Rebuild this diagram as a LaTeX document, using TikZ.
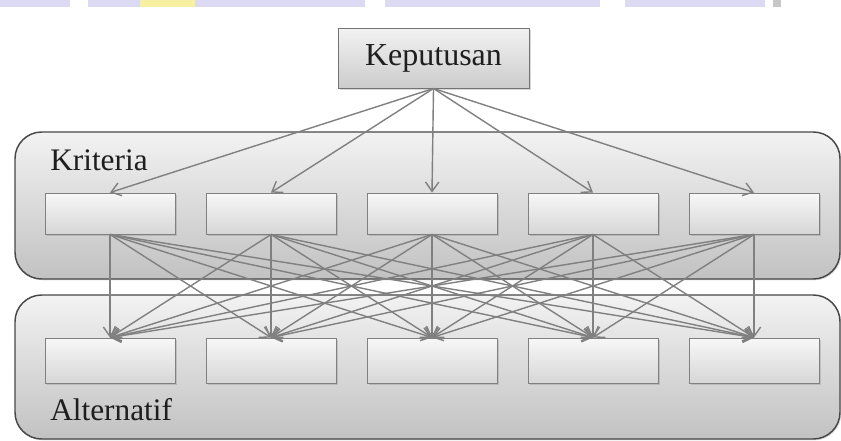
\documentclass[tikz,border=0pt]{standalone}
\usepackage{fontspec}
\setmainfont{Liberation Serif}
\usetikzlibrary{arrows.meta,shadows}
\definecolor{wmlav}{HTML}{DCD9F3}
\definecolor{wmyel}{HTML}{F6F0A0}
\definecolor{txtc}{HTML}{1E1E1E}
\begin{document}
\begin{tikzpicture}[x=0.75pt,y=-0.75pt,
  cont/.style={draw=black!72, line width=1.1pt, rounded corners=20pt,
    top color=black!5, bottom color=black!24, inner sep=0pt,
    minimum width=618.75pt,
    drop shadow={shadow xshift=1pt,shadow yshift=-1pt,opacity=0.25}},
  kbox/.style={draw=black!50, line width=0.7pt, top color=black!3,
    bottom color=black!16, inner sep=0pt, minimum width=97.5pt,
    drop shadow={shadow xshift=1.2pt,shadow yshift=-1.2pt,opacity=0.3}},
  lbl/.style={anchor=base west, text=txtc, font=\fontsize{23.5}{26}\selectfont, inner sep=0pt},
  arr/.style={draw=black!50, line width=1.05pt, -{Straight Barb[length=7pt,width=10pt]}}
]
\useasboundingbox (0,0) rectangle (841,440);
% watermark strip
\fill[wmlav] (0,0) rectangle (70,7);
\fill[wmlav] (88,0) rectangle (365,7);
\fill[wmyel] (140,0) rectangle (195,7);
\fill[wmlav] (385,0) rectangle (600,7);
\fill[wmlav] (625,0) rectangle (765,7);
\fill[black!22] (773,0) rectangle (781,7);
% containers
\node[cont, minimum height=110.25pt] (kc) at (427.5,205.5) {};
\node[cont, minimum height=108pt] (ac) at (427.5,367) {};
\node[lbl] (lk) at (50,170) {Kriteria};
\node[lbl] (la) at (50,420) {Alternatif};
% boxes
\node[kbox, draw=black!55, minimum width=143.25pt, minimum height=45pt, top color=black!5, bottom color=black!20,
  text=txtc, font=\fontsize{24}{27}\selectfont] (kep) at (433.5,58) {Keputusan};
\foreach \i/\x in {1/110,2/271,3/432,4/593,5/754}{
  \node[kbox, minimum height=30.75pt] (c\i) at (\x,213.5) {};
  \node[kbox, minimum height=33.75pt] (a\i) at (\x,360.5) {};
}
% arrows
\foreach \i in {1,...,5}{
  \draw[arr] (kep.south) -- (c\i.north);
}
\foreach \i in {1,...,5}{
  \foreach \j in {1,...,5}{
    \draw[arr] (c\i.south) -- (a\j.north);
  }
}
\end{tikzpicture}
\end{document}
